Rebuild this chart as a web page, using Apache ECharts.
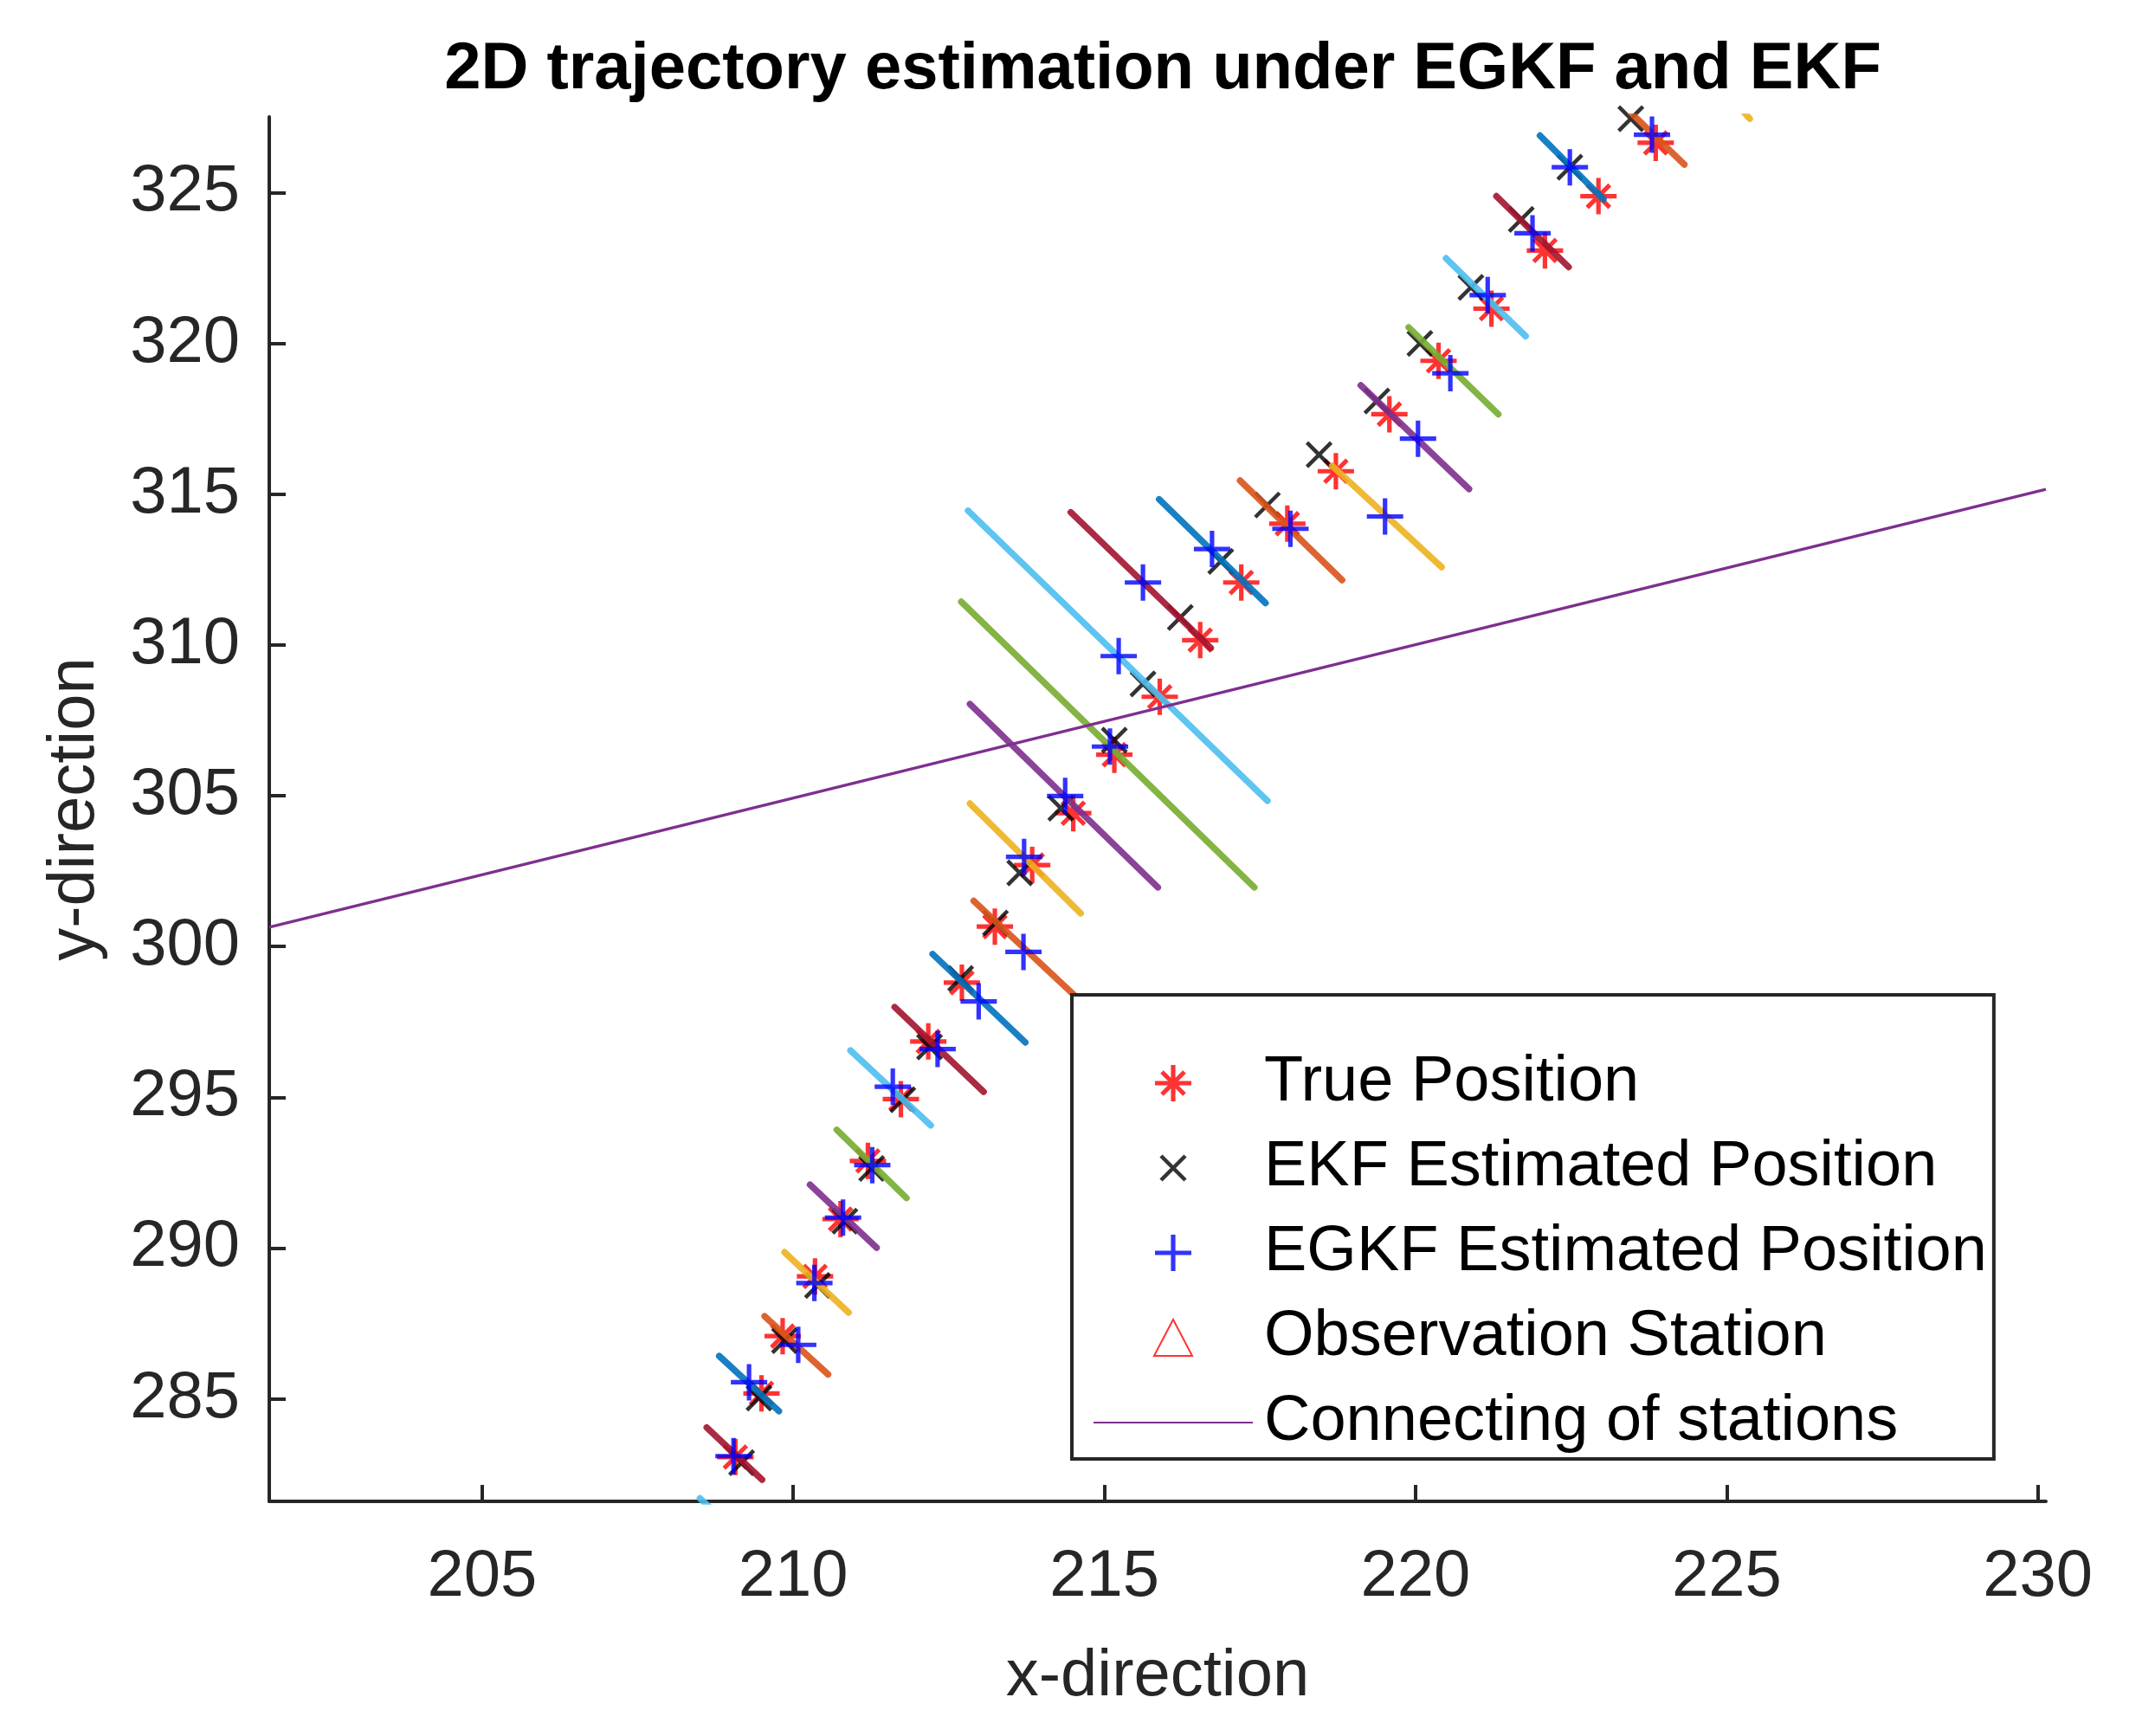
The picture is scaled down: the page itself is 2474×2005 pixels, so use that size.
<!DOCTYPE html>
<html><head><meta charset="utf-8">
<script src="https://cdn.jsdelivr.net/npm/echarts@6/dist/echarts.min.js"></script>
<style>html,body{margin:0;padding:0;background:#fff}#c{width:2474px;height:2005px}</style>
</head><body><div id="c"></div>
<script>
// ---- tick labels ----
const xTicks = [205, 210, 215, 220, 225, 230];
const yTicks = [285, 290, 295, 300, 305, 310, 315, 320, 325];

// ---- true positions ----
const trueX = [209.07, 209.49, 209.83, 210.35, 210.76, 211.20, 211.73, 212.17, 212.71, 213.24, 213.84, 214.50, 215.16, 215.89, 216.54, 217.20, 217.94, 218.72, 219.58, 220.37, 221.22, 222.08, 222.94, 223.86];
const trueY = [283.07, 285.18, 287.08, 289.06, 290.96, 292.89, 294.94, 296.85, 298.80, 300.66, 302.70, 304.42, 306.36, 308.28, 310.16, 312.07, 314.02, 315.76, 317.65, 319.42, 321.15, 323.08, 324.88, 326.65];

// ---- EKF estimates ----
const ekfX = [209.17, 209.45, 209.86, 210.39, 210.83, 211.26, 211.76, 212.19, 212.69, 213.25, 213.64, 214.30, 215.16, 215.62, 216.22, 216.87, 217.62, 218.45, 219.38, 220.07, 220.89, 221.70, 222.48, 223.46];
const ekfY = [282.88, 285.03, 286.93, 288.76, 290.89, 292.64, 294.92, 296.67, 298.94, 300.78, 302.44, 304.59, 306.84, 308.71, 310.91, 312.77, 314.64, 316.31, 318.09, 320.00, 321.86, 324.11, 325.84, 327.45];

// ---- EGKF estimates ----
const egkfX = [209.04, 209.29, 210.08, 210.34, 210.80, 211.27, 211.60, 212.32, 212.98, 213.70, 213.71, 214.37, 215.09, 215.23, 215.62, 216.73, 217.99, 219.51, 220.04, 220.56, 221.16, 221.88, 222.48, 223.80];
const egkfY = [283.10, 285.55, 286.79, 288.84, 291.01, 292.75, 295.35, 296.60, 298.18, 299.82, 302.97, 304.99, 306.63, 309.63, 312.07, 313.18, 313.85, 314.26, 316.84, 319.01, 321.60, 323.65, 325.84, 326.92];

// ---- covariance ellipses (major-axis end points) ----
const ellX1 = [208.50, 208.61, 208.81, 209.54, 209.86, 210.27, 210.70, 210.92, 211.63, 212.24, 212.90, 212.84, 212.84, 212.70, 212.81, 214.46, 215.88, 217.18, 218.66, 219.12, 219.89, 220.49, 221.30, 222.00, 223.46, 225.00];
const ellY1 = [281.70, 284.05, 286.42, 287.74, 289.86, 292.10, 293.92, 296.55, 297.99, 299.75, 301.51, 304.74, 308.04, 311.43, 314.45, 314.40, 314.83, 315.45, 315.94, 318.61, 320.53, 322.82, 324.88, 326.89, 327.65, 328.30];
const ellX2 = [209.40, 209.50, 209.77, 210.56, 210.89, 211.34, 211.82, 212.21, 213.06, 213.73, 214.57, 214.62, 215.86, 217.41, 217.62, 216.71, 217.59, 218.82, 220.42, 220.86, 221.33, 221.77, 222.46, 223.02, 224.32, 225.37];
const ellY2 = [280.00, 282.32, 284.59, 285.81, 287.86, 290.01, 291.66, 294.07, 295.18, 296.82, 298.28, 301.10, 301.96, 301.96, 304.83, 309.90, 311.39, 312.15, 312.58, 315.17, 317.65, 320.24, 322.53, 324.78, 325.93, 327.45];

// ---- line connecting the stations ----
const stationLineX = [201.58, 230.13];
const stationLineY = [300.64, 315.16];

const palette = ['#0072BD', '#D95319', '#EDB120', '#7E2F8E', '#77AC30', '#4DBEEE', '#A2142F'];
const FONT = "'Liberation Sans', Arial, Helvetica, sans-serif";
const AX = '#262626';

const zip = (a, b) => a.map((v, i) => [v, b[i]]);

const starPath = 'path://M-2.6,-21L2.6,-21L2.6,-2.6L21,-2.6L21,2.6L2.6,2.6L2.6,21L-2.6,21L-2.6,2.6L-21,2.6L-21,-2.6L-2.6,-2.6Z' +
  'M-11.2,-14.8L14.8,11.2L11.2,14.8L-14.8,-11.2Z' +
  'M14.8,-11.2L-11.2,14.8L-14.8,11.2L11.2,-14.8Z';
const plusPath = 'path://M-2.6,-21L2.6,-21L2.6,-2.6L21,-2.6L21,2.6L2.6,2.6L2.6,21L-2.6,21L-2.6,2.6L-21,2.6L-21,-2.6L-2.6,-2.6Z';
const crossPath = 'path://M-21,-21L-21,-21Z M21,21L21,21Z' +
  'M-12.4,-15.6L15.6,12.4L12.4,15.6L-15.6,-12.4Z' +
  'M15.6,-12.4L-12.4,15.6L-15.6,12.4L12.4,-15.6Z';
const triPath = 'path://M0,-20L21,20L-21,20Z';

const series = [];
for (let k = 0; k < ellX1.length; k++) {
  series.push({
    name: 'ellipse' + k,
    type: 'line',
    data: [[ellX1[k], ellY1[k]], [ellX2[k], ellY2[k]]],
    symbol: 'none',
    silent: true,
    z: 3,
    lineStyle: { color: palette[(k + 5) % 7], width: 7.5, cap: 'round', opacity: 0.9 }
  });
}
series.push({
  name: 'True Position', type: 'scatter', data: zip(trueX, trueY),
  symbol: starPath, symbolSize: 42, z: 2, itemStyle: { color: '#FF0000' }
});
series.push({
  name: 'EKF Estimated Position', type: 'scatter', data: zip(ekfX, ekfY),
  symbol: crossPath, symbolSize: 42, z: 2, itemStyle: { color: '#000000' }
});
series.push({
  name: 'EGKF Estimated Position', type: 'scatter', data: zip(egkfX, egkfY),
  symbol: plusPath, symbolSize: 42, z: 6, itemStyle: { color: '#0000FF' }
});
series.push({
  name: 'Observation Station', type: 'scatter', data: [],
  symbol: triPath, symbolSize: 42, symbolKeepAspect: true,
  itemStyle: { color: 'rgba(255,255,255,0)', borderColor: '#FF0000', borderWidth: 5 }
});
series.push({
  name: 'Connecting of stations', type: 'line', data: zip(stationLineX, stationLineY),
  symbol: 'none', z: 4, lineStyle: { color: '#7E2F8E', width: 3.5 },
  itemStyle: { color: 'rgba(0,0,0,0)', borderColor: 'rgba(0,0,0,0)', borderWidth: 0 }
});

const chart = echarts.init(document.getElementById('c'), null, { renderer: 'canvas' });
chart.setOption({
  animation: false,
  backgroundColor: '#ffffff',
  title: {
    text: '2D trajectory estimation under EGKF and EKF',
    left: 1338, top: 38, textAlign: 'center',
    textStyle: { fontFamily: FONT, fontSize: 76, fontWeight: 'bold', color: '#000' }
  },
  grid: { left: 311, top: 135, width: 2052, height: 1599, containLabel: false },
  xAxis: {
    type: 'value', min: 201.58, max: 230.13,
    name: 'x-direction', nameLocation: 'middle', nameGap: 165,
    nameTextStyle: { fontFamily: FONT, fontSize: 76, color: AX },
    axisLine: { show: true, onZero: false, lineStyle: { color: AX, width: 4 } },
    axisTick: { show: true, inside: true, length: 19, customValues: xTicks, lineStyle: { color: AX, width: 4 } },
    axisLabel: { show: true, customValues: xTicks, margin: 50, fontFamily: FONT, fontSize: 76, color: AX },
    splitLine: { show: false }
  },
  yAxis: {
    type: 'value', min: 281.6, max: 327.51,
    name: 'y-direction', nameLocation: 'middle', nameGap: 186,
    nameTextStyle: { fontFamily: FONT, fontSize: 76, color: AX },
    axisLine: { show: true, onZero: false, lineStyle: { color: AX, width: 4 } },
    axisTick: { show: true, inside: true, length: 19, customValues: yTicks, lineStyle: { color: AX, width: 4 } },
    axisLabel: { show: true, customValues: yTicks, margin: 34, fontFamily: FONT, fontSize: 76, color: AX },
    splitLine: { show: false }
  },
  legend: {
    data: ['True Position', 'EKF Estimated Position', 'EGKF Estimated Position', 'Observation Station', 'Connecting of stations'],
    orient: 'vertical', left: 1238, top: 1149,
    padding: [62, 8, 2, 24],
    itemWidth: 184, itemHeight: 42, itemGap: 18,
    symbolKeepAspect: true,
    backgroundColor: '#ffffff', borderColor: AX, borderWidth: 4, borderRadius: 0,
    selectedMode: false,
    textStyle: { fontFamily: FONT, fontSize: 74, color: '#000', lineHeight: 80, padding: [0, 0, 0, 8] }
  },
  series: series
});
</script>
</body></html>
